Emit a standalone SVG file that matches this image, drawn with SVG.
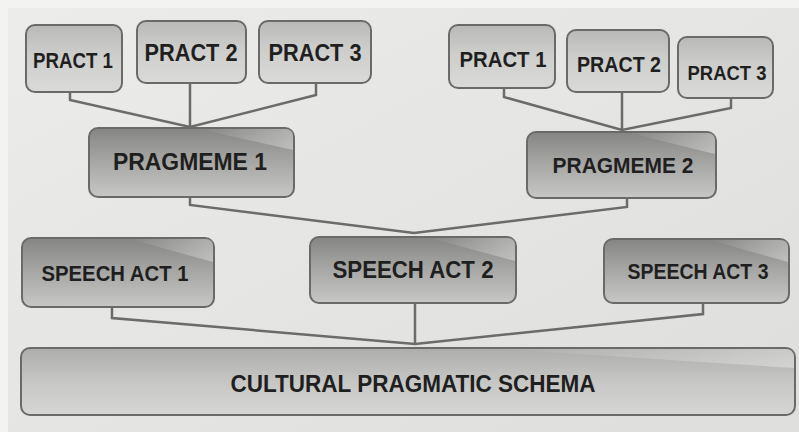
<svg xmlns="http://www.w3.org/2000/svg" width="799" height="432" viewBox="0 0 799 432">
<defs>
<linearGradient id="bg" x1="0" y1="0" x2="1" y2="1">
<stop offset="0" stop-color="#ececea"/>
<stop offset="1" stop-color="#dededc"/>
</linearGradient>
<linearGradient id="gLight" x1="0" y1="0" x2="0" y2="1">
<stop offset="0" stop-color="#b9b9b7"/>
<stop offset="0.45" stop-color="#cdcdcb"/>
<stop offset="1" stop-color="#dadad8"/>
</linearGradient>
<linearGradient id="gDark" x1="0" y1="0" x2="0" y2="1">
<stop offset="0" stop-color="#858583"/>
<stop offset="0.4" stop-color="#a1a19f"/>
<stop offset="1" stop-color="#c7c7c5"/>
</linearGradient>
<linearGradient id="gBase" x1="0" y1="0" x2="0" y2="1">
<stop offset="0" stop-color="#adadab"/>
<stop offset="0.5" stop-color="#c6c6c4"/>
<stop offset="1" stop-color="#d6d6d4"/>
</linearGradient>
<linearGradient id="hl" x1="0" y1="0" x2="1" y2="0">
<stop offset="0" stop-color="#ffffff" stop-opacity="0"/>
<stop offset="1" stop-color="#ffffff" stop-opacity="0.35"/>
</linearGradient>
</defs>
<style>
.box{stroke:#6a6a68;stroke-width:2}
.lt{fill:url(#gLight)}
.dk{fill:url(#gDark)}
.bs{fill:url(#gBase)}
.t{font-family:"Liberation Sans","DejaVu Sans",sans-serif;font-weight:bold;fill:#1f1f1f;text-anchor:middle}
.c{fill:none;stroke:#6b6b69;stroke-width:2.5;stroke-linejoin:miter}
</style>
<rect x="0" y="0" width="799" height="432" fill="url(#bg)"/>
<rect x="0" y="0" width="8" height="432" fill="#f3f3f1"/>
<rect x="0" y="0" width="799" height="8" fill="#f3f3f1"/>

<g id="connectors">
<polyline class="c" points="70,92 70,100 190,127 316,95 316,83"/>
<line class="c" x1="190" y1="83" x2="190" y2="127"/>
<polyline class="c" points="504,88 504,97 622,130 731,108 731,98"/>
<line class="c" x1="622" y1="92" x2="622" y2="130"/>
<polyline class="c" points="190,197 190,205 414,233 627,207 627,198"/>
<polyline class="c" points="112,307 112,318 415,344 703,314 703,303"/>
<line class="c" x1="415" y1="303" x2="415" y2="344"/>
</g>

<g id="pract1a">
<rect class="box lt" x="26" y="25" width="96" height="67" rx="9"/>
<text class="t" x="73" y="68" font-size="22" textLength="80" lengthAdjust="spacingAndGlyphs">PRACT 1</text>
</g>
<g id="pract2a">
<rect class="box lt" x="137" y="21" width="109" height="62" rx="9"/>
<text class="t" x="191" y="61" font-size="23" textLength="93" lengthAdjust="spacingAndGlyphs">PRACT 2</text>
</g>
<g id="pract3a">
<rect class="box lt" x="259" y="21" width="112" height="62" rx="9"/>
<text class="t" x="315" y="61" font-size="23" textLength="93" lengthAdjust="spacingAndGlyphs">PRACT 3</text>
</g>
<g id="pragmeme1">
<rect class="box dk" x="89" y="128" width="205" height="69" rx="9"/>
<path d="M200,129 L286,129 Q293,129 293,136 L293,150 Z" fill="url(#hl)"/>
<text class="t" x="190" y="170" font-size="23" textLength="154" lengthAdjust="spacingAndGlyphs">PRAGMEME 1</text>
</g>

<g id="pract1b">
<rect class="box lt" x="449" y="25" width="106" height="63" rx="9"/>
<text class="t" x="503" y="67" font-size="22" textLength="87" lengthAdjust="spacingAndGlyphs">PRACT 1</text>
</g>
<g id="pract2b">
<rect class="box lt" x="567" y="30" width="102" height="62" rx="9"/>
<text class="t" x="619" y="72" font-size="22" textLength="84" lengthAdjust="spacingAndGlyphs">PRACT 2</text>
</g>
<g id="pract3b">
<rect class="box lt" x="678" y="37" width="95" height="61" rx="9"/>
<text class="t" x="727" y="80" font-size="21" textLength="79" lengthAdjust="spacingAndGlyphs">PRACT 3</text>
</g>
<g id="pragmeme2">
<rect class="box dk" x="527" y="132" width="189" height="66" rx="9"/>
<path d="M630,133 L708,133 Q715,133 715,140 L715,154 Z" fill="url(#hl)"/>
<text class="t" x="623" y="173" font-size="22" textLength="141" lengthAdjust="spacingAndGlyphs">PRAGMEME 2</text>
</g>

<g id="speechact1">
<rect class="box dk" x="22" y="238" width="192" height="69" rx="9"/>
<path d="M130,239 L206,239 Q213,239 213,246 L213,262 Z" fill="url(#hl)"/>
<text class="t" x="115" y="281" font-size="22" textLength="147" lengthAdjust="spacingAndGlyphs">SPEECH ACT 1</text>
</g>
<g id="speechact2">
<rect class="box dk" x="310" y="237" width="206" height="66" rx="9"/>
<path d="M430,238 L508,238 Q515,238 515,245 L515,261 Z" fill="url(#hl)"/>
<text class="t" x="413" y="278" font-size="23" textLength="161" lengthAdjust="spacingAndGlyphs">SPEECH ACT 2</text>
</g>
<g id="speechact3">
<rect class="box dk" x="604" y="239" width="185" height="64" rx="9"/>
<path d="M710,240 L781,240 Q788,240 788,247 L788,262 Z" fill="url(#hl)"/>
<text class="t" x="698" y="279" font-size="22" textLength="141" lengthAdjust="spacingAndGlyphs">SPEECH ACT 3</text>
</g>

<g id="schema">
<rect class="box bs" x="21" y="348" width="774" height="67" rx="9"/>
<path d="M500,349 L786,349 Q794,349 794,357 L794,368 Z" fill="url(#hl)"/>
<text class="t" x="413" y="392" font-size="23" textLength="365" lengthAdjust="spacingAndGlyphs">CULTURAL PRAGMATIC SCHEMA</text>
</g>
</svg>
